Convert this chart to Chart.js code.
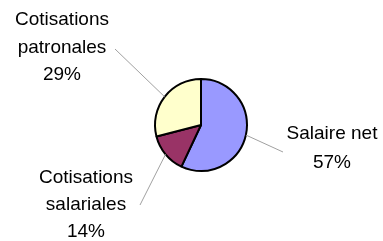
<!DOCTYPE html>
<html>
<head>
<meta charset="utf-8">
<script src="https://cdn.jsdelivr.net/npm/chart.js@4"></script>
<style>
  html, body { margin: 0; padding: 0; background: #fff; }
  #wrap { width: 383px; height: 241px; }
</style>
</head>
<body>
<div id="wrap"><canvas id="pie"></canvas></div>
<script>
// chart data
const categories = ['Salaire net', 'Cotisations salariales', 'Cotisations patronales'];
const shares = [57, 14, 29];
const sliceColors = ['#9999FF', '#993366', '#FFFFCC'];

// label text lines, shown outside the pie
const labelLines = [
  ['Salaire net', '57%'],
  ['Cotisations', 'salariales', '14%'],
  ['Cotisations', 'patronales', '29%']
];

// first text line position (relative to pie centre) and leader line end
const labelPlace = [
  { tx: 131, ty: 9, gap: 29, lx: 82, ly: 27 },
  { tx: -115, ty: 53, gap: 27, lx: -61, ly: 80 },
  { tx: -139, ty: -105, gap: 27.5, lx: -86, ly: -76 }
];

const outsideLabels = {
  id: 'outsideLabels',
  afterDraw(chart) {
    const ctx = chart.ctx;
    const arcs = chart.getDatasetMeta(0).data;
    ctx.save();
    arcs.forEach((arc, i) => {
      const p = arc.getProps(['x', 'y', 'startAngle', 'endAngle', 'outerRadius'], true);
      const mid = (p.startAngle + p.endAngle) / 2;
      const sx = p.x + Math.cos(mid) * p.outerRadius;
      const sy = p.y + Math.sin(mid) * p.outerRadius;
      const pl = labelPlace[i];

      // leader line
      ctx.strokeStyle = '#a0a0a0';
      ctx.lineWidth = 1;
      ctx.beginPath();
      ctx.moveTo(sx, sy);
      ctx.lineTo(p.x + pl.lx, p.y + pl.ly);
      ctx.stroke();

      // text
      ctx.fillStyle = '#000';
      ctx.font = '19px "Liberation Sans", Arial, sans-serif';
      ctx.textAlign = 'center';
      ctx.textBaseline = 'middle';
      labelLines[i].forEach((t, k) => {
        ctx.fillText(t, p.x + pl.tx, p.y + pl.ty + k * pl.gap);
      });
    });
    ctx.restore();
  }
};

new Chart(document.getElementById('pie'), {
  type: 'pie',
  data: {
    labels: categories,
    datasets: [{
      data: shares,
      backgroundColor: sliceColors,
      borderColor: '#000',
      borderWidth: 2
    }]
  },
  options: {
    responsive: true,
    maintainAspectRatio: false,
    animation: false,
    layout: {
      padding: { left: 154, right: 135, top: 78, bottom: 69 }
    },
    plugins: {
      legend: { display: false },
      tooltip: { enabled: false }
    }
  },
  plugins: [outsideLabels]
});
</script>
</body>
</html>
